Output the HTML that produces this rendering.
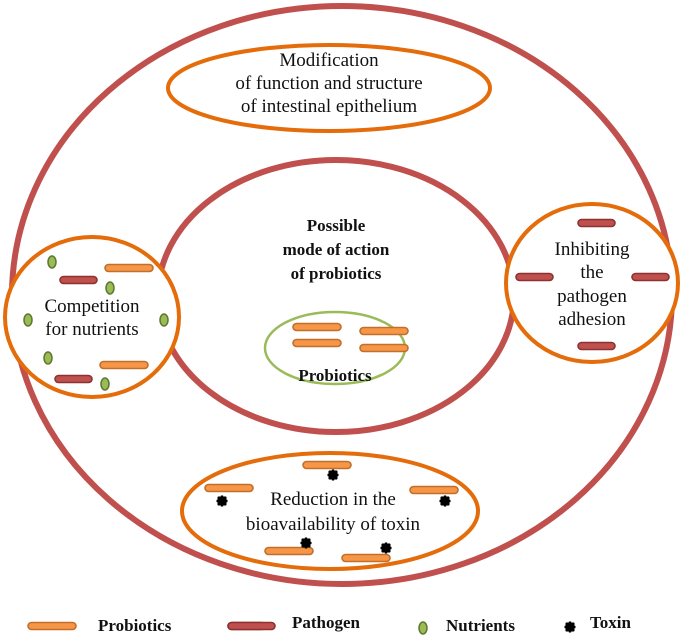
<!DOCTYPE html>
<html><head><style>body{margin:0;background:#fff}svg{display:block}</style></head><body>
<svg width="685" height="636" viewBox="0 0 685 636" xmlns="http://www.w3.org/2000/svg" font-family="Liberation Serif, serif">
<defs>
<g id="pro"><rect x="0" y="-3.5" width="48" height="7" rx="3.5" fill="#f79646" stroke="#c0702a" stroke-width="1.6"/></g>
<g id="pat"><rect x="0" y="-3.5" width="37" height="7" rx="3.5" fill="#c0504d" stroke="#8c3331" stroke-width="1.6"/></g>
<g id="nut"><ellipse cx="0" cy="0" rx="4" ry="6" fill="#9bbb59" stroke="#5f7a2e" stroke-width="1.6"/></g>
<g id="tox"><circle r="4.5" fill="#000"/><circle cx="0" cy="-4" r="1.6"/><circle cx="0" cy="4" r="1.6"/><circle cx="-4" cy="0" r="1.6"/><circle cx="4" cy="0" r="1.6"/><circle cx="3" cy="3" r="1.6"/><circle cx="-3" cy="-3" r="1.6"/><circle cx="3" cy="-3" r="1.6"/><circle cx="-3" cy="3" r="1.6"/></g>
</defs>
<ellipse cx="342" cy="295" rx="330" ry="289" fill="none" stroke="#c0504d" stroke-width="6"/>
<ellipse cx="336" cy="296" rx="178" ry="136" fill="none" stroke="#c0504d" stroke-width="6"/>
<ellipse cx="329" cy="88" rx="161" ry="43" fill="#fff" stroke="#e46c0a" stroke-width="4"/>
<ellipse cx="92" cy="317" rx="87" ry="80" fill="#fff" stroke="#e46c0a" stroke-width="4"/>
<ellipse cx="592" cy="283" rx="86" ry="79" fill="#fff" stroke="#e46c0a" stroke-width="4"/>
<ellipse cx="330" cy="511" rx="148" ry="58" fill="#fff" stroke="#e46c0a" stroke-width="4"/>
<ellipse cx="335" cy="348" rx="70" ry="36" fill="#fff" stroke="#9bbb59" stroke-width="2.5"/>

<g font-size="19" text-anchor="middle" fill="#111">
<text x="329" y="66">Modification</text>
<text x="329" y="89">of function and structure</text>
<text x="329" y="112">of intestinal epithelium</text>
<text x="92" y="312">Competition</text>
<text x="92" y="335">for nutrients</text>
<text x="592" y="255">Inhibiting</text>
<text x="592" y="278">the</text>
<text x="592" y="302">pathogen</text>
<text x="592" y="325">adhesion</text>
<text x="333" y="505">Reduction in the</text>
<text x="333" y="530">bioavailability  of toxin</text>
</g>
<g font-size="17" font-weight="bold" text-anchor="middle" fill="#111">
<text x="336" y="231">Possible</text>
<text x="336" y="255">mode of action</text>
<text x="336" y="279">of probiotics</text>
<text x="335" y="381">Probiotics</text>
</g>

<use href="#pro" x="293" y="327"/><use href="#pro" x="293" y="343"/>
<use href="#pro" x="360" y="331"/><use href="#pro" x="360" y="348"/>

<use href="#pat" x="60" y="280"/><use href="#pro" x="105" y="268" transform="translate(0,0)"/>
<use href="#pat" x="55" y="379"/><use href="#pro" x="100" y="365"/>
<use href="#nut" x="52" y="262"/><use href="#nut" x="110" y="288"/><use href="#nut" x="28" y="320"/>
<use href="#nut" x="164" y="320"/><use href="#nut" x="48" y="358"/><use href="#nut" x="105" y="384"/>

<use href="#pat" x="578" y="223"/><use href="#pat" x="516" y="277"/>
<use href="#pat" x="632" y="277"/><use href="#pat" x="578" y="346"/>

<use href="#pro" x="303" y="465"/><use href="#tox" x="333" y="475"/>
<use href="#pro" x="205" y="488"/><use href="#tox" x="222" y="501"/>
<use href="#pro" x="410" y="490"/><use href="#tox" x="445" y="501"/>
<use href="#pro" x="265" y="551"/><use href="#tox" x="306" y="543"/>
<use href="#pro" x="342" y="558"/><use href="#tox" x="386" y="548"/>

<use href="#pro" x="28" y="626"/>
<use href="#pat" x="228" y="626" transform="translate(0,0)"/>
<rect x="228" y="622.5" width="47" height="7" rx="3.5" fill="#c0504d" stroke="#8c3331" stroke-width="1.6"/>
<use href="#nut" x="423" y="628"/>
<use href="#tox" x="570" y="627"/>
<g font-size="17" font-weight="bold" fill="#111">
<text x="98" y="631">Probiotics</text>
<text x="292" y="628">Pathogen</text>
<text x="446" y="631">Nutrients</text>
<text x="590" y="628">Toxin</text>
</g>
</svg>
</body></html>
